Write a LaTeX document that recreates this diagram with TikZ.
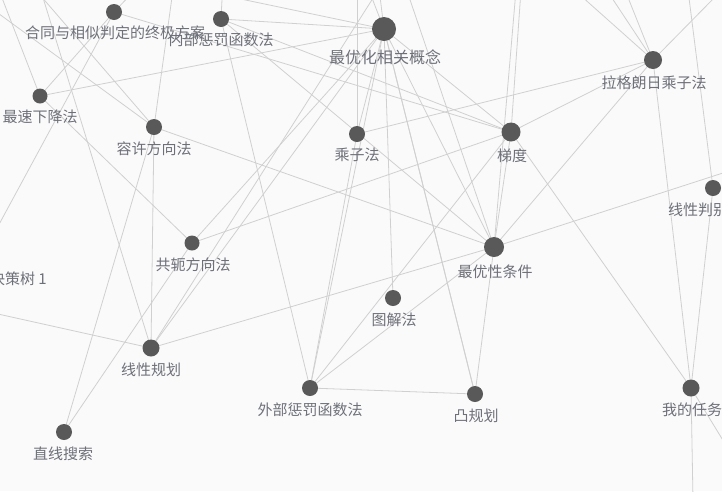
\documentclass[tikz,border=0pt]{standalone}
\usepackage{fontspec}
\newfontfamily\cjk{Noto Sans CJK SC}
\definecolor{bgc}{RGB}{250,250,250}
\definecolor{edgec}{RGB}{208,208,208}
\definecolor{dotc}{RGB}{89,89,89}
\definecolor{labc}{RGB}{110,112,121}
\begin{document}
\begin{tikzpicture}[x=1pt,y=-1pt,
  edge/.style={draw=edgec,line width=0.8pt},
  lab/.style={text=labc,font=\cjk\fontsize{15}{15}\selectfont,inner sep=0pt,anchor=center},
  biglab/.style={lab,font=\cjk\fontsize{16}{16}\selectfont}]
\useasboundingbox (0,0) rectangle (722,491);
\clip (0,0) rectangle (722,491);
\fill[bgc] (0,0) rectangle (722,491);
% node centres
\coordinate (A) at (114,12);
\coordinate (B) at (221,19);
\coordinate (C) at (384,29);
\coordinate (D) at (40,96);
\coordinate (E) at (154,127);
\coordinate (F) at (357,134);
\coordinate (G) at (511,132);
\coordinate (H) at (653,60);
\coordinate (I) at (713,188);
\coordinate (J) at (192,243);
\coordinate (K) at (494,247);
\coordinate (M) at (393,298);
\coordinate (N) at (151,348);
\coordinate (O) at (310,388);
\coordinate (P) at (475,394);
\coordinate (Q) at (691,388);
\coordinate (R) at (64,432);
% off-picture ends
\coordinate (xA1) at (-30,278);
\coordinate (xA2) at (135,-10);
\coordinate (xB1) at (223,-20);
\coordinate (xC1) at (150,-20);
\coordinate (xC2) at (365,-20);
\coordinate (xC3) at (378,-20);
\coordinate (xD1) at (-3,-15);
\coordinate (xE1) at (173,-10);
\coordinate (xE2) at (-20,0);
\coordinate (xE3) at (40,-5);
\coordinate (xF1) at (357,-10);
\coordinate (xN1) at (-20,310);
\coordinate (xN2) at (40,-12);
\coordinate (xN3) at (375,-5);
\coordinate (xK1) at (760,161);
\coordinate (xK2) at (516,-10);
\coordinate (xK3) at (405,-15);
\coordinate (xG1) at (521,-10);
\coordinate (xH1) at (580,-5);
\coordinate (xH2) at (610,-5);
\coordinate (xH3) at (627,-5);
\coordinate (xH4) at (717,-5);
\coordinate (xI1) at (688,-10);
\coordinate (xQ1) at (693,500);
\coordinate (xQ2) at (735,460);
% connectors
\foreach \a/\b in {A/D,A/xA1,A/xA2,A/G,B/C,B/G,B/K,B/O,B/xB1,C/D,C/F,C/G,C/K,C/M,C/O,C/P,C/N,C/J,C/xC1,C/xC2,C/xC3,
  D/J,D/xD1,E/N,E/R,E/K,E/xE1,E/xE2,E/xE3,F/xF1,F/O,J/R,J/G,N/K,N/xN1,N/xN2,N/xN3,
  O/G,O/K,O/P,P/K,P/C,K/G,K/H,K/xK1,K/xK2,K/xK3,G/Q,G/H,G/xG1,H/Q,H/F,H/xH1,H/xH2,H/xH3,H/xH4,
  I/Q,I/xI1,Q/xQ1,Q/xQ2}
  \draw[edge] (\a) -- (\b);
% dots
\foreach \n/\r in {A/8,B/8,C/12,D/7.5,E/8,F/8,G/9.5,H/9,I/8,J/7.5,K/10,M/8,N/8.5,O/8,P/8,Q/8.5,R/8}
  \fill[dotc] (\n) circle (\r);
% labels
\node[lab] (lA) at (115,33) {合同与相似判定的终极方案};
\node[lab] (lB) at (221,40) {内部惩罚函数法};
\node[biglab] (lC) at (385,57) {最优化相关概念};
\node[lab] (lD) at (40,117) {最速下降法};
\node[lab] (lE) at (154,149) {容许方向法};
\node[lab] (lF) at (357,155) {乘子法};
\node[lab] (lG) at (512,156) {梯度};
\node[lab] (lH) at (654,83) {拉格朗日乘子法};
\node[lab] (lI) at (713,210) {线性判别分析};
\node[lab] (lJ) at (193,265) {共轭方向法};
\node[lab] (lK) at (495,272) {最优性条件};
\node[lab,anchor=east] (lL) at (47,279) {决策树 1};
\node[lab] (lM) at (394,320) {图解法};
\node[lab] (lN) at (151,370) {线性规划};
\node[lab] (lO) at (310,410) {外部惩罚函数法};
\node[lab] (lP) at (476,416) {凸规划};
\node[lab] (lQ) at (692,410) {我的任务};
\node[lab] (lR) at (63,454) {直线搜索};
\end{tikzpicture}
\end{document}
